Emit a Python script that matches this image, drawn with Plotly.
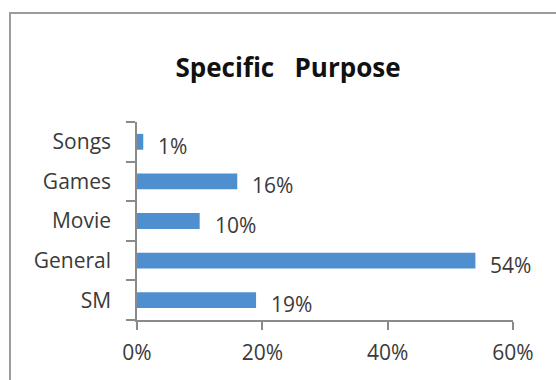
import plotly.graph_objects as go

# Survey answers: share of respondents per specific purpose (bottom to top)
categories = ["SM", "General", "Movie", "Games", "Songs"]
shares = [19, 54, 10, 16, 1]
x_ticks = [0, 20, 40, 60]
x_tick_labels = ["0%", "20%", "40%", "60%"]

W, H = 556, 380
ML, MR, MT, MB = 137, 43, 122, 60

def px_to_paper_x(px):
    return (px - ML) / (W - ML - MR)

def px_to_paper_y(py):
    return (H - MB - py) / (H - MT - MB)

FONT = "Open Sans"
BAR_COLOR = "#4f8fd0"
AXIS_COLOR = "#8a8a8a"
TEXT_COLOR = "#3a3a3a"

fig = go.Figure(
    go.Bar(
        x=shares,
        y=categories,
        orientation="h",
        width=0.4,
        marker=dict(color=BAR_COLOR, line=dict(width=0)),
        hoverinfo="skip",
    )
)

# value labels just right of each bar
for cat, val in zip(categories, shares):
    fig.add_annotation(
        x=val, y=cat, xref="x", yref="y",
        text=f"{val}%", showarrow=False,
        xanchor="left", yanchor="middle",
        xshift=13, yshift=-4,
        font=dict(family=FONT, size=21, color=TEXT_COLOR),
    )

# chart frame
fig.add_shape(
    type="rect", xref="paper", yref="paper",
    x0=px_to_paper_x(10), x1=px_to_paper_x(W + 20),
    y0=px_to_paper_y(H + 20), y1=px_to_paper_y(13),
    line=dict(color="#9c9c9c", width=2),
    fillcolor="rgba(0,0,0,0)", layer="below",
)

fig.update_layout(
    width=W, height=H,
    margin=dict(l=ML, r=MR, t=MT, b=MB),
    paper_bgcolor="white",
    plot_bgcolor="white",
    showlegend=False,
    title=dict(
        text="<b>Specific\u00a0\u00a0\u00a0Purpose</b>",
        x=288 / W, xanchor="center", xref="container",
        y=1 - 68 / H, yanchor="middle", yref="container",
        font=dict(family=FONT, size=26, color="#111111"),
    ),
    xaxis=dict(
        range=[0, 60],
        tickvals=x_ticks, ticktext=x_tick_labels,
        showgrid=False, zeroline=False,
        showline=True, linecolor=AXIS_COLOR, linewidth=1.5,
        ticks="outside", ticklen=8, tickcolor=AXIS_COLOR, tickwidth=1.5,
        ticklabelstandoff=5,
        tickfont=dict(family=FONT, size=21, color=TEXT_COLOR),
        fixedrange=True,
    ),
    yaxis=dict(
        type="category",
        categoryorder="array", categoryarray=categories,
        range=[-0.5, len(categories) - 0.5],
        showgrid=False, zeroline=False,
        showline=True, linecolor=AXIS_COLOR, linewidth=1.5,
        ticks="outside", ticklen=9, tickcolor=AXIS_COLOR, tickwidth=1.5,
        tickson="boundaries",
        ticklabelstandoff=20,
        tickfont=dict(family=FONT, size=21, color=TEXT_COLOR),
        fixedrange=True,
    ),
)

fig.write_html("out.html", config={"displayModeBar": False})
